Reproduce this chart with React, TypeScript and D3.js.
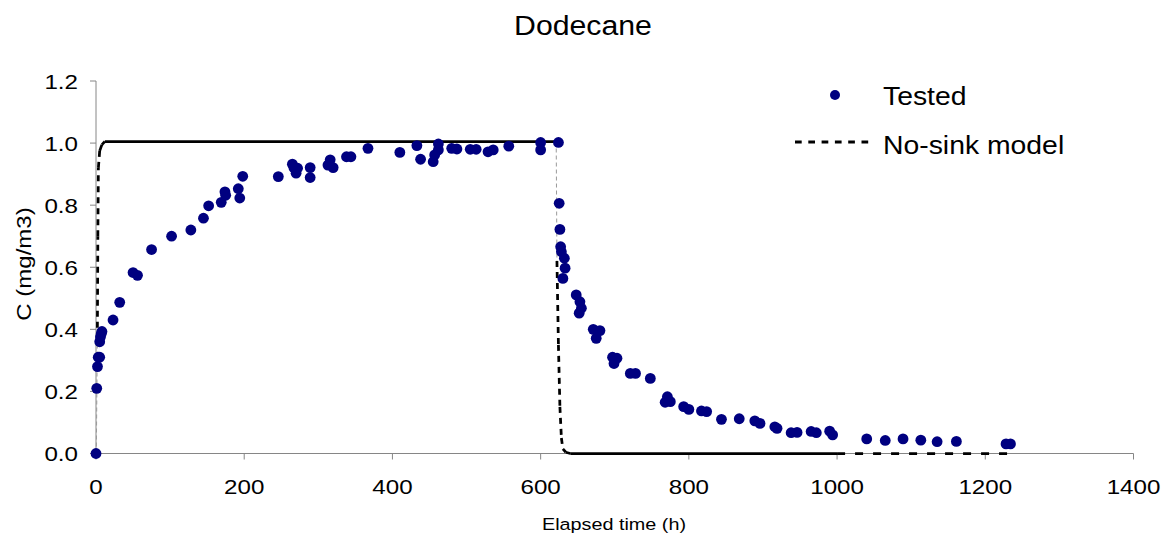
import React from "react";
import * as d3 from "d3";

// ---- data ----
const testedT = [0, 1, 2, 3, 5, 5, 6, 7, 8, 23, 32, 50, 56, 75, 102, 128, 145, 152, 169, 174, 175, 192, 194, 198, 246, 265, 267, 270, 272, 289, 289, 313, 316, 320, 338, 344, 367, 410, 433, 438, 455, 457, 462, 462, 480, 487, 505, 513, 529, 536, 557, 600, 600, 624, 625, 626, 627, 628, 632, 633, 630, 648, 653, 655, 652, 671, 680, 675, 697, 703, 699, 721, 728, 748, 771, 768, 775, 793, 800, 817, 824, 844, 868, 889, 896, 916, 919, 938, 946, 965, 972, 990, 994, 1040, 1065, 1089, 1113, 1135, 1161, 1228, 1234];
const testedC = [0, 0.21, 0.28, 0.31, 0.31, 0.36, 0.375, 0.385, 0.393, 0.43, 0.487, 0.583, 0.574, 0.657, 0.70, 0.72, 0.758, 0.798, 0.809, 0.843, 0.832, 0.853, 0.823, 0.893, 0.892, 0.932, 0.921, 0.903, 0.919, 0.921, 0.889, 0.929, 0.946, 0.921, 0.956, 0.956, 0.983, 0.970, 0.992, 0.948, 0.940, 0.962, 0.997, 0.978, 0.983, 0.981, 0.98, 0.98, 0.972, 0.978, 0.99, 1.002, 0.978, 1.002, 0.806, 0.722, 0.666, 0.65, 0.629, 0.597, 0.564, 0.511, 0.489, 0.468, 0.452, 0.40, 0.396, 0.371, 0.31, 0.307, 0.29, 0.258, 0.258, 0.242, 0.183, 0.165, 0.167, 0.151, 0.142, 0.137, 0.135, 0.11, 0.112, 0.105, 0.097, 0.086, 0.081, 0.067, 0.068, 0.071, 0.067, 0.072, 0.06, 0.047, 0.042, 0.047, 0.043, 0.038, 0.039, 0.031, 0.031];

const modelT = [0.4, 1.8, 2.5, 3.2, 5, 8, 12, 621, 622, 624, 626, 628, 630, 634, 640, 1000, 1235];
const modelC = [0, 0.37, 0.7, 0.92, 0.975, 0.995, 1.005, 1.005, 0.62, 0.35, 0.15, 0.05, 0.015, 0.004, 0, 0, 0];
// drawing style of each model segment (between point i and i+1)
const modelSegStyle = ["faint", "dash", "dash", "dash", "solid", "solid", "solid", "faint", "dash", "dash", "dash", "dash", "solid", "solid", "solid", "tail"];

const xTicks = [0, 200, 400, 600, 800, 1000, 1200, 1400];
const yTicks = [0, 0.2, 0.4, 0.6, 0.8, 1.0, 1.2];

const W = 1166;
const H = 542;
const FONT = "'Liberation Sans', Arial, sans-serif";

function SText({ x, y, size, sx = 1, rotate = 0, anchor = "start", fill = "#000", children }: any) {
  return (
    <text
      transform={`translate(${x},${y}) rotate(${rotate}) scale(${sx},1)`}
      fontSize={size}
      fontFamily={FONT}
      textAnchor={anchor}
      fill={fill}
    >
      {children}
    </text>
  );
}

export default function App() {
  const x = d3.scaleLinear().domain([0, 1400]).range([96, 1133.5]);
  const y = d3.scaleLinear().domain([0, 1.2]).range([453.5, 81]);
  const axisColor = "#868686";

  const segs = modelT.slice(0, -1).map((t, i) => {
    const st = modelSegStyle[i];
    const line = d3.line<[number, number]>().x((d) => x(d[0])).y((d) => y(d[1]));
    const d = line([[t, modelC[i]], [modelT[i + 1], modelC[i + 1]]]) as string;
    if (st === "faint")
      return <path key={i} d={d} stroke="#9a9a9a" strokeWidth={1} strokeDasharray="4,3" fill="none" />;
    if (st === "solid")
      return <path key={i} d={d} stroke="#000" strokeWidth={2.75} fill="none" strokeLinecap="butt" />;
    if (st === "tail")
      return <path key={i} d={d} stroke="#000" strokeWidth={2.75} strokeDasharray="8,10" fill="none" />;
    return <path key={i} d={d} stroke="#000" strokeWidth={2.75} strokeDasharray="6,5" fill="none" />;
  });

  return (
    <svg width={W} height={H} style={{ display: "block", position: "absolute", left: 0, top: 0 }}>
      <rect width={W} height={H} fill="#fff" />
      {/* title */}
      <SText x={583} y={35} size={27.5} sx={1.1} anchor="middle">Dodecane</SText>

      {/* axes */}
      <line x1={x(0)} x2={x(0)} y1={y(1.2)} y2={y(0)} stroke={axisColor} strokeWidth={1} />
      <line x1={x(0)} x2={x(1400)} y1={y(0)} y2={y(0)} stroke={axisColor} strokeWidth={1} />
      {yTicks.map((t) => (
        <g key={"y" + t}>
          <line x1={x(0) - 6} x2={x(0)} y1={y(t)} y2={y(t)} stroke={axisColor} />
          <SText x={78} y={y(t) + 7.5} size={21} sx={1.15} anchor="end">{t.toFixed(1)}</SText>
        </g>
      ))}
      {xTicks.map((t) => (
        <g key={"x" + t}>
          <line x1={x(t)} x2={x(t)} y1={y(0)} y2={y(0) + 6} stroke={axisColor} />
          <SText x={x(t)} y={494} size={21} sx={1.15} anchor="middle">{t}</SText>
        </g>
      ))}
      <SText x={614} y={530} size={16.5} sx={1.2} anchor="middle">Elapsed time (h)</SText>
      <SText x={31} y={264} size={20} sx={1.2} rotate={-90} anchor="middle">C (mg/m3)</SText>

      {/* model */}
      {segs}

      {/* tested */}
      {testedT.map((t, i) => (
        <circle key={i} cx={x(t)} cy={y(testedC[i])} r={5.4} fill="#000080" />
      ))}

      {/* legend */}
      <circle cx={835} cy={95} r={5} fill="#000080" />
      <SText x={883} y={104.5} size={26.5} sx={1.07}>Tested</SText>
      <line x1={795} x2={870} y1={142} y2={142} stroke="#000" strokeWidth={3} strokeDasharray="6.7,6.6" />
      <SText x={883} y={154.3} size={26.5} sx={1.07}>No-sink model</SText>
    </svg>
  );
}
